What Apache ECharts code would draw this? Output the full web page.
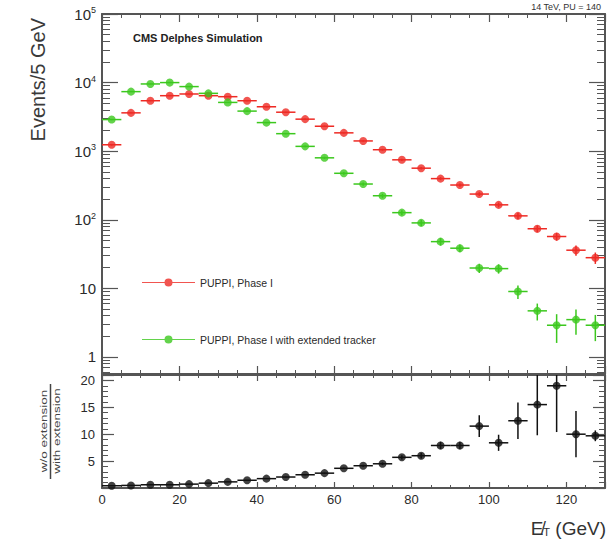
<!DOCTYPE html>
<html>
<head>
<meta charset="utf-8">
<script src="https://cdn.jsdelivr.net/npm/echarts@6/dist/echarts.min.js"></script>
<style>
html,body{margin:0;padding:0;background:#fff;}
#c{width:614px;height:549px;}
</style>
</head>
<body>
<div id="c"></div>
<script>
// ---------------- data ----------------
const binCenters = [2.5,7.5,12.5,17.5,22.5,27.5,32.5,37.5,42.5,47.5,52.5,57.5,62.5,67.5,72.5,77.5,82.5,87.5,92.5,97.5,102.5,107.5,112.5,117.5,122.5,127.5];
const binHalfWidth = 2.5;

const puppiPhase1 = [1240,3620,5440,6440,6820,6440,6230,5440,4440,3700,2930,2310,1850,1410,1050,748,565,398,321,237,165,114,74,57,36,28];
const puppiPhase1Err = [35,60,74,80,83,80,79,74,67,61,54,48,43,38,32,27,24,20,18,15,13,11,8.6,7.5,6,5.3];

const puppiExtended = [2890,7380,9550,10000,8740,6970,5140,3840,2610,1800,1175,800,476,332,224,127,90,48,38.5,19.8,19.4,9.0,4.7,2.9,3.5,2.9];
const puppiExtendedErr = [54,86,98,100,93,83,72,62,51,42,34,28,22,18,15,11,9,6,5,3,3,2,1.3,1.3,1.4,1.2];

const ratio = [0.42,0.48,0.6,0.6,0.72,0.9,1.14,1.44,1.74,2.04,2.46,2.76,3.66,4.14,4.5,5.7,6.0,7.9,7.9,11.5,8.4,12.5,15.5,19.0,10.0,9.7];
const ratioErr = [0.01,0.01,0.01,0.01,0.02,0.02,0.03,0.04,0.05,0.06,0.08,0.1,0.15,0.2,0.25,0.4,0.5,0.7,0.7,2.0,1.5,3.4,5.7,8.6,4.3,1.0];

// axis ranges and ticks
const xMin = 0, xMax = 130, xStep = 20;
const xTickLabels = [0,20,40,60,80,100,120];
const yTopMin = 0.564, yTopMax = 100000;
const yTopTicks = [1,10,100,1000,10000,100000];
const yTopMinorTicks = [0.6,0.7,0.8,0.9,2,3,4,5,6,7,8,9,20,30,40,50,60,70,80,90,200,300,400,500,600,700,800,900,2000,3000,4000,5000,6000,7000,8000,9000,20000,30000,40000,50000,60000,70000,80000,90000];
const yBotMin = 0, yBotMax = 21, yBotStep = 5;
const yBotTickLabels = [5,10,15,20];

const nameRed = 'PUPPI, Phase I';
const nameGreen = 'PUPPI, Phase I with extended tracker';

// ---------------- styles ----------------
const FRAME = '#555';
const TXT = '#2a2a2a';
const FONT = 'Liberation Sans';
const RED = '#ee2a24';
const GREEN = '#3cc81e';

function points(vals, errs) { return binCenters.map((x, i) => [x, vals[i], errs[i]]); }

function errRender(color) {
  return function (params, api) {
    const x = api.value(0), y = api.value(1), e = api.value(2);
    const lo = y - e > 0 ? y - e : y * 0.05;
    const l = api.coord([x - binHalfWidth, y]);
    const r = api.coord([x + binHalfWidth, y]);
    const t = api.coord([x, y + e]);
    const b = api.coord([x, lo]);
    return {
      type: 'group',
      children: [
        { type: 'line', shape: { x1: l[0], y1: l[1], x2: r[0], y2: r[1] }, style: { stroke: color, lineWidth: 1.5 } },
        { type: 'line', shape: { x1: t[0], y1: t[1], x2: b[0], y2: b[1] }, style: { stroke: color, lineWidth: 1.5 } }
      ]
    };
  };
}

function xAxisDef(grid, pos, showLabels) {
  return {
    type: 'value', gridIndex: grid, position: pos, min: xMin, max: xMax, interval: xStep,
    axisLine: { show: true, onZero: false, lineStyle: { color: FRAME, width: 2 } },
    axisTick: { show: true, inside: true, length: grid === 0 ? 8 : 6, lineStyle: { color: FRAME, width: 1.2 } },
    minorTick: { show: true, splitNumber: 4, length: grid === 0 ? 4 : 3, lineStyle: { color: FRAME, width: 1 } },
    axisLabel: { show: showLabels, customValues: xTickLabels, margin: 5, fontSize: 13, color: TXT, fontFamily: FONT },
    splitLine: { show: false }
  };
}

function logMajor(pos, showLabels) {
  return {
    type: 'log', logBase: 10, gridIndex: 0, position: pos, min: yTopMin, max: yTopMax,
    axisLine: { show: true, onZero: false, lineStyle: { color: FRAME, width: 2 } },
    axisTick: { show: true, inside: true, length: 16, customValues: yTopTicks, lineStyle: { color: FRAME, width: 1.2 } },
    minorTick: { show: false },
    axisLabel: {
      show: showLabels, customValues: yTopTicks, margin: 6, color: TXT, fontFamily: FONT,
      formatter: function (v) {
        if (Math.abs(v - 1) < 1e-6) return '{b|1}';
        if (Math.abs(v - 10) < 1e-6) return '{b|10}';
        return '{b|10}{s|' + Math.round(Math.log10(v)) + '}';
      },
      rich: {
        b: { fontSize: 15, fontFamily: FONT, color: TXT },
        s: { fontSize: 9, fontFamily: FONT, color: TXT, verticalAlign: 'top', padding: [0, 0, 8, 0] }
      }
    },
    splitLine: { show: false }
  };
}

function logMinor(pos) {
  return {
    type: 'log', logBase: 10, gridIndex: 0, position: pos, min: yTopMin, max: yTopMax,
    axisLine: { show: false, onZero: false },
    axisTick: { show: true, inside: true, length: 8, customValues: yTopMinorTicks, lineStyle: { color: FRAME, width: 1 } },
    minorTick: { show: false },
    axisLabel: { show: false },
    splitLine: { show: false }
  };
}

function botY(pos, showLabels) {
  return {
    type: 'value', gridIndex: 1, position: pos, min: yBotMin, max: yBotMax, interval: yBotStep,
    axisLine: { show: true, onZero: false, lineStyle: { color: FRAME, width: 2 } },
    axisTick: { show: true, inside: true, length: 12, lineStyle: { color: FRAME, width: 1.2 } },
    minorTick: { show: true, splitNumber: 5, length: 6, lineStyle: { color: FRAME, width: 1 } },
    axisLabel: { show: showLabels, customValues: yBotTickLabels, margin: 7, fontSize: 13, color: TXT, fontFamily: FONT },
    splitLine: { show: false }
  };
}

const legendIcon = 'path://M0,4L53,4L53,5L0,5Z M30.5,4.5A4,4,0,1,1,22.5,4.5A4,4,0,1,1,30.5,4.5Z';

const chart = echarts.init(document.getElementById('c'), null, { renderer: 'svg' });

chart.setOption({
  animation: false,
  backgroundColor: '#fff',
  grid: [
    { left: 102, right: 9, top: 14, height: 360, containLabel: false, outerBoundsMode: 'none' },
    { left: 102, right: 9, top: 375, height: 113, containLabel: false, outerBoundsMode: 'none' }
  ],
  xAxis: [
    xAxisDef(0, 'bottom', false),
    xAxisDef(0, 'top', false),
    xAxisDef(1, 'bottom', true),
    xAxisDef(1, 'top', false)
  ],
  yAxis: [
    logMajor('left', true),
    logMinor('left'),
    logMajor('right', false),
    logMinor('right'),
    botY('left', true),
    botY('right', false)
  ],
  legend: [
    {
      data: [{ name: nameRed, icon: legendIcon }],
      left: 137, top: 272, itemWidth: 53, itemHeight: 9, itemGap: 0,
      textStyle: { fontSize: 10.5, fontFamily: FONT, color: TXT }, selectedMode: false
    },
    {
      data: [{ name: nameGreen, icon: legendIcon }],
      left: 137, top: 329, itemWidth: 53, itemHeight: 9, itemGap: 0,
      textStyle: { fontSize: 10.5, fontFamily: FONT, color: TXT }, selectedMode: false
    }
  ],
  series: [
    { type: 'custom', name: 'errRed', xAxisIndex: 0, yAxisIndex: 0, clip: true,
      renderItem: errRender(RED), data: points(puppiPhase1, puppiPhase1Err), z: 2 },
    { type: 'scatter', name: nameRed, xAxisIndex: 0, yAxisIndex: 0, symbol: 'circle', symbolSize: 8,
      itemStyle: { color: RED }, data: binCenters.map((x, i) => [x, puppiPhase1[i]]), z: 3 },
    { type: 'custom', name: 'errGreen', xAxisIndex: 0, yAxisIndex: 0, clip: true,
      renderItem: errRender(GREEN), data: points(puppiExtended, puppiExtendedErr), z: 2 },
    { type: 'scatter', name: nameGreen, xAxisIndex: 0, yAxisIndex: 0, symbol: 'circle', symbolSize: 8,
      itemStyle: { color: GREEN }, data: binCenters.map((x, i) => [x, puppiExtended[i]]), z: 3 },
    { type: 'custom', name: 'errRatio', xAxisIndex: 2, yAxisIndex: 4, clip: true,
      renderItem: errRender('#111'), data: points(ratio, ratioErr), z: 2 },
    { type: 'scatter', name: 'ratio', xAxisIndex: 2, yAxisIndex: 4, symbol: 'circle', symbolSize: 8,
      itemStyle: { color: '#111' }, data: binCenters.map((x, i) => [x, ratio[i]]), z: 3 }
  ],
  graphic: [
    { type: 'text', left: 133, top: 32,
      style: { text: 'CMS Delphes Simulation', fontSize: 11, fontWeight: 'bold', fontFamily: FONT, fill: '#222' } },
    { type: 'text', x: 601, y: 7,
      style: { text: '14 TeV, PU = 140', fontSize: 9, fontFamily: FONT, fill: '#333', align: 'right', verticalAlign: 'middle' } },
    { type: 'text', x: 38, y: 18, rotation: Math.PI / 2,
      style: { text: 'Events/5 GeV', fontSize: 20, fontFamily: FONT, fill: '#3a3a3a', align: 'right', verticalAlign: 'middle' } },
    { type: 'text', x: 44, y: 431, rotation: Math.PI / 2, scaleX: 1.5,
      style: { text: 'w/o extension', fontSize: 9, fontFamily: FONT, fill: '#444', align: 'center', verticalAlign: 'middle' } },
    { type: 'line', shape: { x1: 50.5, y1: 384, x2: 50.5, y2: 479 }, style: { stroke: '#444', lineWidth: 1.5 } },
    { type: 'text', x: 57, y: 431, rotation: Math.PI / 2, scaleX: 1.5,
      style: { text: 'with extension', fontSize: 9, fontFamily: FONT, fill: '#444', align: 'center', verticalAlign: 'middle' } },
    { type: 'text', x: 606, y: 528,
      style: {
        text: '{e|E\u0338}{t|T}{g| (GeV)}', align: 'right', verticalAlign: 'middle',
        rich: {
          e: { fontSize: 19, fontFamily: FONT, fill: '#333' },
          t: { fontSize: 11, fontFamily: FONT, fill: '#333', verticalAlign: 'bottom' },
          g: { fontSize: 19, fontFamily: FONT, fill: '#333' }
        }
      } }
  ]
});
</script>
</body>
</html>
